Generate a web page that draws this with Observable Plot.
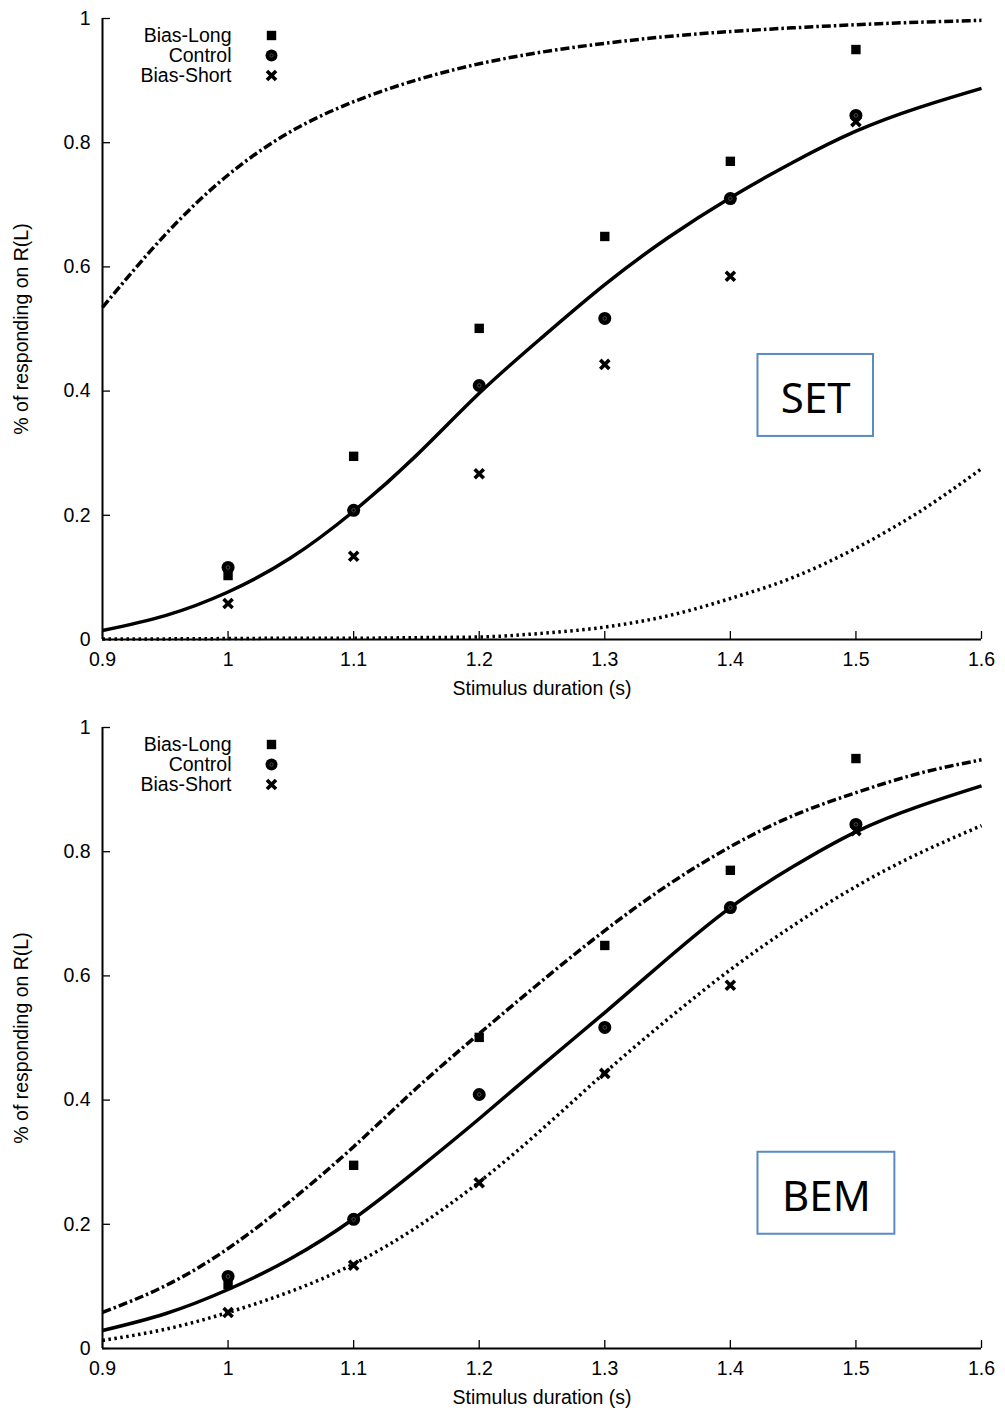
<!DOCTYPE html>
<html>
<head>
<meta charset="utf-8">
<script src="https://cdn.jsdelivr.net/npm/d3@7"></script>
<script src="https://cdn.jsdelivr.net/npm/@observablehq/plot@0.6"></script>
<style>
  html, body { margin: 0; padding: 0; background: #fff; }
  #chart svg { display: block; }
</style>
</head>
<body>
<div id="chart"></div>
<script>
// ---- Data ----
const durations = [1.0, 1.1, 1.2, 1.3, 1.4, 1.5];
const biasLong  = [0.103, 0.295, 0.501, 0.649, 0.770, 0.950];
const control   = [0.116, 0.208, 0.409, 0.517, 0.710, 0.844];
const biasShort = [0.058, 0.134, 0.267, 0.443, 0.585, 0.834];

const curveX = [0.9, 0.95, 1.0, 1.05, 1.1, 1.15, 1.2, 1.25, 1.3, 1.35, 1.4, 1.45, 1.5, 1.55, 1.6];
// SET model fits
const setControl = [0.0145, 0.0385, 0.0765, 0.1315, 0.2065, 0.2965, 0.3965, 0.4865, 0.5715, 0.6465, 0.7115, 0.7685, 0.8185, 0.8565, 0.8875];
const setLong    = [0.535, 0.652, 0.748, 0.818, 0.866, 0.901, 0.927, 0.946, 0.960, 0.971, 0.979, 0.985, 0.990, 0.994, 0.997];
const setShort   = [0.001, 0.001, 0.0015, 0.002, 0.002, 0.003, 0.004, 0.010, 0.020, 0.038, 0.066, 0.100, 0.147, 0.205, 0.275];
// BEM model fits
const bemControl = [0.029, 0.056, 0.095, 0.145, 0.209, 0.287, 0.370, 0.456, 0.541, 0.628, 0.710, 0.776, 0.832, 0.873, 0.906];
const bemLong    = [0.058, 0.101, 0.161, 0.238, 0.325, 0.419, 0.507, 0.592, 0.673, 0.746, 0.808, 0.858, 0.895, 0.926, 0.948];
const bemShort   = [0.013, 0.031, 0.058, 0.092, 0.136, 0.195, 0.268, 0.353, 0.444, 0.530, 0.610, 0.681, 0.744, 0.797, 0.842];

const xTicks = [0.9, 1.0, 1.1, 1.2, 1.3, 1.4, 1.5, 1.6];
const yTicks = [0, 0.2, 0.4, 0.6, 0.8, 1];
const legendLabels = ["Bias-Long", "Control", "Bias-Short"];
const xLabel = "Stimulus duration (s)";
const yLabel = "% of responding on R(L)";

// ---- Build tables ----
const pts = (ys) => durations.map((x, i) => ({x, y: ys[i]}));
const crv = (ys) => curveX.map((x, i) => ({x, y: ys[i]}));

const FONT = "'Liberation Sans', Arial, Helvetica, sans-serif";
const fmt = d3.format("~g");

function panel({fitLong, fitControl, fitShort, shortCurve, boxLabel, box, marginTop, marginBottom, height}) {
  const lineW = 3.5;
  const legendMarks = [];
  legendLabels.forEach((lab, i) => {
    legendMarks.push(Plot.text([lab], {frameAnchor: "top-left", lineAnchor: "middle", dx: 129, dy: 17 + 20 * i, textAnchor: "end", fontSize: 19.5, fill: "black"}));
  });
  const lineOpts = {x: "x", y: "y", curve: "natural", stroke: "black", strokeWidth: lineW, strokeLinecap: "butt", strokeLinejoin: "round"};
  const crossOpts = {symbol: "times", r: 4.2, stroke: "black", strokeWidth: 3.6, strokeLinecap: "butt"};
  return Plot.plot({
    width: 1005,
    height,
    marginLeft: 102,
    marginRight: 24,
    marginTop,
    marginBottom,
    style: {fontFamily: FONT, fontSize: "19px", color: "black", background: "white"},
    x: {domain: [0.9, 1.6]},
    y: {domain: [0, 1]},
    marks: [
      // tick labels
      Plot.axisX({ticks: xTicks, tickFormat: fmt, tickSize: 0, tickPadding: 13, label: null, fontSize: 19.5}),
      Plot.axisY({ticks: yTicks, tickFormat: fmt, tickSize: 0, tickPadding: 12, label: null, fontSize: 19.5}),
      // inward ticks
      Plot.axisX({ticks: xTicks, tickFormat: null, text: null, tickSize: 8, dy: -8, label: null, strokeWidth: 1.3}),
      Plot.axisY({ticks: yTicks, tickFormat: null, text: null, tickSize: 8, dx: 8, label: null, strokeWidth: 1.3}),
      // axis lines
      Plot.ruleX([0.9], {strokeWidth: 2}),
      Plot.ruleY([0], {strokeWidth: 2}),
      // axis titles
      Plot.text([xLabel], {frameAnchor: "bottom", lineAnchor: "middle", dy: 49, fontSize: 19.5}),
      Plot.text([yLabel], {frameAnchor: "left", textAnchor: "middle", lineAnchor: "middle", dx: -81, rotate: -90, fontSize: 19.5}),
      // model curves
      Plot.line(crv(fitShort), {...lineOpts, curve: shortCurve, strokeDasharray: "2.5,3.5"}),
      Plot.line(crv(fitLong), {...lineOpts, strokeDasharray: "9,3,2.5,3"}),
      Plot.line(crv(fitControl), lineOpts),
      // data points
      Plot.dot(pts(biasShort), {x: "x", y: "y", ...crossOpts}),
      Plot.dot(pts(biasLong), {x: "x", y: "y", symbol: "square", r: 5.3, fill: "black"}),
      Plot.dot(pts(control), {x: "x", y: "y", r: 6.5, fill: "black"}),
      Plot.dot(pts(control), {x: "x", y: "y", r: 1.8, stroke: "#666", strokeWidth: 0.7, fill: "none"}),
      // legend
      ...legendMarks,
      Plot.dot([0], {frameAnchor: "top-left", dx: 169, dy: 17, symbol: "square", r: 5.3, fill: "black"}),
      Plot.dot([0], {frameAnchor: "top-left", dx: 169, dy: 37, r: 6, fill: "black"}),
      Plot.dot([0], {frameAnchor: "top-left", dx: 169, dy: 37, r: 1.7, stroke: "#666", strokeWidth: 0.7, fill: "none"}),
      Plot.dot([0], {frameAnchor: "top-left", dx: 169, dy: 57, ...crossOpts}),
      // model name box
      Plot.rect([box], {x1: "x1", x2: "x2", y1: "y1", y2: "y2", fill: "white", stroke: "#5a8ac6", strokeWidth: 2}),
      Plot.text([box], {x: d => (d.x1 + d.x2) / 2, y: d => (d.y1 + d.y2) / 2, dy: 4, text: () => boxLabel, fontSize: 42, fontFamily: "'Noto Sans', 'Open Sans', sans-serif", fill: "black"})
    ]
  });
}

const chart = document.getElementById("chart");
chart.append(panel({
  fitLong: setLong, fitControl: setControl, fitShort: setShort, shortCurve: "monotone-x",
  boxLabel: "SET", box: {x1: 1.422, x2: 1.514, y1: 0.327, y2: 0.459},
  marginTop: 18, marginBottom: 66, height: 705
}));
chart.append(panel({
  fitLong: bemLong, fitControl: bemControl, fitShort: bemShort, shortCurve: "natural",
  boxLabel: "BEM", box: {x1: 1.422, x2: 1.531, y1: 0.184, y2: 0.316},
  marginTop: 22, marginBottom: 62, height: 705
}));
</script>
</body>
</html>
